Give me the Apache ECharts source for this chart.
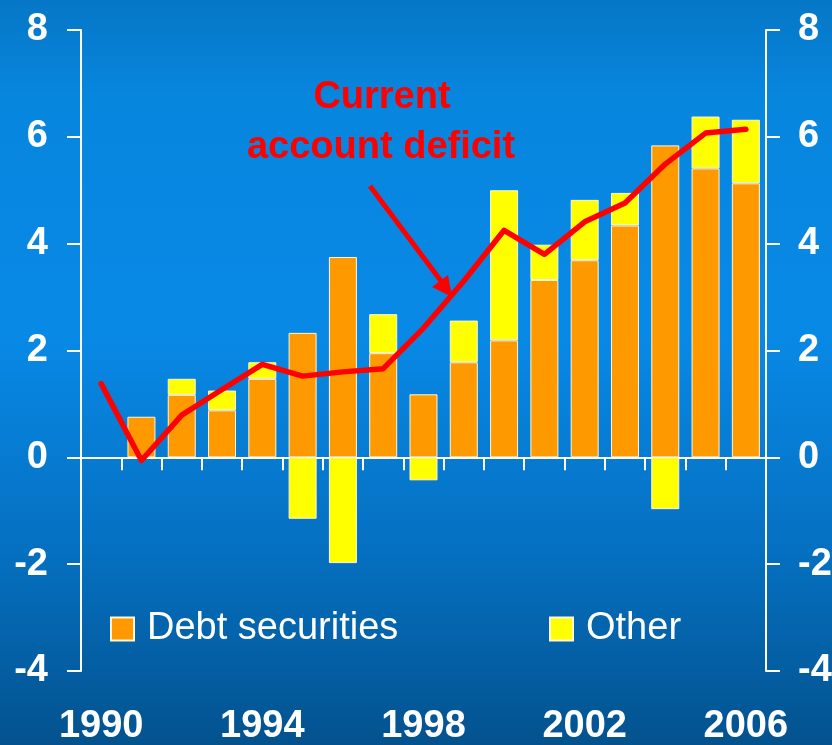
<!DOCTYPE html>
<html>
<head>
<meta charset="utf-8">
<script src="https://cdn.jsdelivr.net/npm/echarts@6/dist/echarts.min.js"></script>
<style>
  html, body { margin: 0; padding: 0; }
  #chart { width: 832px; height: 745px; }
</style>
</head>
<body>
<div id="chart"></div>
<script>
// Financing of the US current account deficit, % of GDP
const years = ['1990','1991','1992','1993','1994','1995','1996','1997','1998',
               '1999','2000','2001','2002','2003','2004','2005','2006'];
const debtSecurities = [null, 0.76, 1.17, 0.88, 1.47, 2.33, 3.75, 1.95, 1.18,
                        1.78, 2.19, 3.32, 3.69, 4.34, 5.84, 5.41, 5.13];
const other = [null, null, 0.30, 0.37, 0.31, -1.15, -1.98, 0.73, -0.43,
               0.78, 2.81, 0.66, 1.13, 0.61, -0.97, 0.97, 1.19];
const currentAccountDeficit = [1.38, -0.06, 0.79, 1.27, 1.74, 1.52, 1.60, 1.66, 2.42,
                               3.30, 4.25, 3.80, 4.41, 4.76, 5.49, 6.07, 6.14];
const yTicks = { min: -4, max: 8, interval: 2 };

const WHITE = '#ffffff';
const RED = '#ff0000';
const FONT = '"Liberation Sans", Arial, sans-serif';

const chart = echarts.init(document.getElementById('chart'), null, { renderer: 'canvas' });

const valueAxis = (position, margin) => ({
  type: 'value',
  position: position,
  min: yTicks.min, max: yTicks.max, interval: yTicks.interval,
  axisLine: { show: true, lineStyle: { color: WHITE, width: 2 } },
  axisTick: { show: true, length: 14, lineStyle: { color: WHITE, width: 2 } },
  splitLine: { show: false },
  axisLabel: {
    color: WHITE, fontFamily: FONT, fontWeight: 'bold', fontSize: 38, margin: margin
  }
});

const legendFor = (name, left) => ({
  data: [name],
  left: left, top: 610, padding: 0,
  itemWidth: 23, itemHeight: 23, icon: 'rect',
  textStyle: { color: WHITE, fontFamily: FONT, fontSize: 38, padding: [0, 0, 0, 8] }
});

chart.setOption({
  backgroundColor: new echarts.graphic.LinearGradient(0, 0, 0, 1, [
    { offset: 0, color: '#0677c6' },
    { offset: 0.13, color: '#0786de' },
    { offset: 0.45, color: '#0889e6' },
    { offset: 0.75, color: '#056fbf' },
    { offset: 1, color: '#03528e' }
  ]),
  animation: false,
  grid: {
    left: 81, right: 66, top: 30, bottom: 74,
    containLabel: false, outerBoundsMode: 'none'
  },
  xAxis: [
    {
      type: 'category',
      data: years,
      axisLine: { show: true, onZero: true, lineStyle: { color: WHITE, width: 2 } },
      axisTick: { show: true, length: 13, lineStyle: { color: WHITE, width: 2 } },
      axisLabel: { show: false },
      splitLine: { show: false }
    },
    {
      type: 'category',
      data: years,
      position: 'bottom',
      axisLine: { show: false, onZero: false },
      axisTick: { show: false },
      axisLabel: {
        interval: 3, color: WHITE, fontFamily: FONT, fontWeight: 'bold',
        fontSize: 38, margin: 37
      },
      splitLine: { show: false }
    }
  ],
  yAxis: [ valueAxis('left', 33), valueAxis('right', 32) ],
  legend: [ legendFor('Debt securities', 110), legendFor('Other', 549) ],
  series: [
    {
      name: 'Debt securities',
      type: 'bar',
      stack: 'flows',
      data: debtSecurities,
      barWidth: 28,
      itemStyle: { color: '#ff9900', borderColor: '#fff6d8', borderWidth: 1 }
    },
    {
      name: 'Other',
      type: 'bar',
      stack: 'flows',
      data: other,
      barWidth: 28,
      itemStyle: { color: '#ffff00', borderColor: '#fff6d8', borderWidth: 1 }
    },
    {
      name: 'Current account deficit',
      type: 'line',
      data: currentAccountDeficit,
      symbol: 'none',
      z: 5,
      lineStyle: { color: RED, width: 5.5, cap: 'round', join: 'round' }
    }
  ],
  graphic: [
    {
      type: 'text',
      style: {
        x: 382, y: 98, text: 'Current', fill: RED,
        font: 'bold 38px ' + FONT, textAlign: 'center', textVerticalAlign: 'middle'
      }
    },
    {
      type: 'text',
      style: {
        x: 381, y: 148, text: 'account deficit', fill: RED,
        font: 'bold 38px ' + FONT, textAlign: 'center', textVerticalAlign: 'middle'
      }
    },
    {
      type: 'line',
      shape: { x1: 370, y1: 186, x2: 444, y2: 285 },
      style: { stroke: RED, lineWidth: 5 }
    },
    {
      type: 'polygon',
      shape: { points: [[452, 297], [432, 287], [448, 275]] },
      style: { fill: RED }
    }
  ]
});
</script>
</body>
</html>
